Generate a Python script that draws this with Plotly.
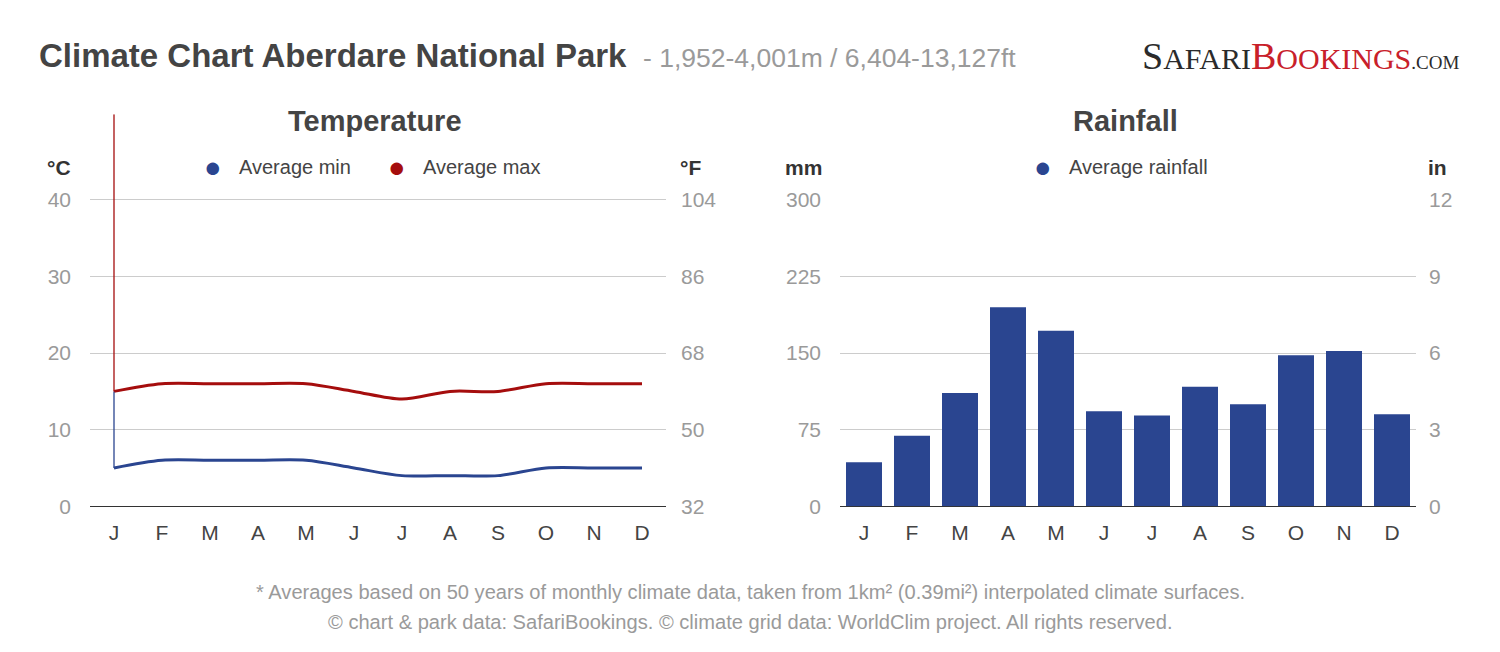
import plotly.graph_objects as go

months = ["J", "F", "M", "A", "M ", "J ", "J  ", "A ", "S", "O", "N", "D"]
month_labels = ["J", "F", "M", "A", "M", "J", "J", "A", "S", "O", "N", "D"]
temp_min = [5, 6, 6, 6, 6, 5, 4, 4, 4, 5, 5, 5]
temp_max = [15, 16, 16, 16, 16, 15, 14, 15, 15, 16, 16, 16]
rain_mm = [43, 69, 111, 195, 172, 93, 89, 117, 100, 148, 152, 90]
c_ticks = [0, 10, 20, 30, 40]
f_ticks = [32, 50, 68, 86, 104]
mm_ticks = [0, 75, 150, 225, 300]
in_ticks = [0, 3, 6, 9, 12]

W, H = 1500, 652
BLUE = "#2a4590"
RED = "#a50d0d"
FONT = "Liberation Sans, Arial, sans-serif"

# empirical correction of page offset / scale seen in the rendered photo
X_OFF = 8.0
Y_OFF, Y_SCALE = 18.6, 0.967


def px(x):
    return (x - X_OFF) / W


def py(y):
    return 1 - ((y - Y_OFF) / Y_SCALE) / H


# plot area geometry (pixels in the photo)
bottom, top, ext_top = 506, 199, 113
t_top = c_ticks[-1] * (bottom - ext_top) / (bottom - top)

fig = go.Figure()

fig.add_trace(go.Scatter(
    x=months, y=temp_min, mode="lines", line=dict(color=BLUE, width=3, shape="spline", smoothing=0.9),
    name="Average min", showlegend=False, xaxis="x", yaxis="y"))
fig.add_trace(go.Scatter(
    x=months, y=temp_max, mode="lines", line=dict(color=RED, width=3, shape="spline", smoothing=0.9),
    name="Average max", showlegend=False, xaxis="x", yaxis="y"))
# focus line artifact at the first month
fig.add_trace(go.Scatter(
    x=[months[0], months[0]], y=[temp_min[0], temp_max[0]], mode="lines",
    line=dict(color=BLUE, width=1.3), showlegend=False, hoverinfo="skip", xaxis="x", yaxis="y"))
fig.add_trace(go.Scatter(
    x=[months[0], months[0]], y=[temp_max[0], t_top], mode="lines",
    line=dict(color=RED, width=1.3), showlegend=False, hoverinfo="skip", xaxis="x", yaxis="y"))
# same data in °F on the right axis (invisible, keeps the axis drawn)
fig.add_trace(go.Scatter(
    x=months, y=[c * 1.8 + 32 for c in temp_max], mode="lines", line=dict(width=0), opacity=0,
    showlegend=False, hoverinfo="skip", xaxis="x", yaxis="y2"))

fig.add_trace(go.Bar(
    x=months, y=rain_mm, marker=dict(color=BLUE, line=dict(width=0)),
    name="Average rainfall", showlegend=False, xaxis="x2", yaxis="y3"))
fig.add_trace(go.Scatter(
    x=months, y=[r / 25.4 for r in rain_mm], mode="lines", line=dict(width=0), opacity=0,
    showlegend=False, hoverinfo="skip", xaxis="x2", yaxis="y4"))

tickfont = dict(family=FONT, size=21, color="#9a9a9a")
xfont = dict(family=FONT, size=21, color="#444444")

common_x = dict(type="category", range=[-0.5, 11.5], showgrid=False, showline=False,
                tickfont=xfont, tickvals=months, ticktext=month_labels,
                ticks="", ticklabelstandoff=12, fixedrange=True)

fig.update_layout(
    width=W, height=H,
    margin=dict(l=0, r=0, t=0, b=0),
    paper_bgcolor="white", plot_bgcolor="white",
    bargap=0.25,
    showlegend=False,
    xaxis=dict(domain=[px(90), px(666)], anchor="y", **common_x),
    xaxis2=dict(domain=[px(840), px(1416)], anchor="y3", **common_x),
    yaxis=dict(domain=[py(bottom), py(ext_top)], range=[0, t_top], tickvals=c_ticks,
               showgrid=True, gridcolor="#cccccc", gridwidth=1,
               zeroline=True, zerolinecolor="#333333", zerolinewidth=1,
               tickfont=tickfont, ticks="", ticklabelstandoff=18, anchor="x", showline=False),
    yaxis2=dict(overlaying="y", side="right", anchor="x",
                range=[f_ticks[0], f_ticks[0] + t_top * 1.8], tickvals=f_ticks,
                showgrid=False, zeroline=False, tickfont=tickfont, ticks="", ticklabelstandoff=14),
    yaxis3=dict(domain=[py(bottom), py(top)], range=[0, mm_ticks[-1]], tickvals=mm_ticks,
                showgrid=True, gridcolor="#cccccc", gridwidth=1,
                zeroline=True, zerolinecolor="#333333", zerolinewidth=1,
                tickfont=tickfont, ticks="", ticklabelstandoff=18, anchor="x2", showline=False),
    yaxis4=dict(overlaying="y3", side="right", anchor="x2",
                range=[0, in_ticks[-1]], tickvals=in_ticks,
                showgrid=False, zeroline=False, tickfont=tickfont, ticks="", ticklabelstandoff=12),
)

ann = []


def text(x, y, s, size, color, bold=False, xanchor="center", family=FONT):
    ann.append(dict(x=px(x), y=py(y), xref="paper", yref="paper", xanchor=xanchor, yanchor="middle",
                    text=f"<b>{s}</b>" if bold else s, showarrow=False,
                    font=dict(family=family, size=size, color=color)))


# title
ann.append(dict(x=px(37), y=py(54), xref="paper", yref="paper", xanchor="left", yanchor="middle",
                showarrow=False,
                text="<b>Climate Chart Aberdare National Park</b> "
                     "<span style='color:#9a9a9a;font-size:26.5px'>&nbsp;- 1,952-4,001m / 6,404-13,127ft</span>",
                font=dict(family=FONT, size=33, color="#444444")))

# logo
ann.append(dict(x=px(1461), y=py(55), xref="paper", yref="paper", xanchor="right", yanchor="middle",
                showarrow=False,
                text="<span style='font-size:38px'>S</span>AFARI"
                     "<span style='color:#c8202a'><span style='font-size:38px'>B</span>OOKINGS</span>"
                     "<span style='font-size:19px'>.COM</span>",
                font=dict(family="Liberation Serif, Times New Roman, serif", size=30, color="#2b2b2b")))

# subplot titles
text(375, 120, "Temperature", 29, "#444444", bold=True)
text(1125, 120, "Rainfall", 29, "#444444", bold=True)

# unit labels
text(59, 166, "°C", 21, "#333333", bold=True)
text(690, 166, "°F", 21, "#333333", bold=True)
text(803, 166, "mm", 21, "#333333", bold=True)
text(1437, 166, "in", 21, "#333333", bold=True)

# legends
text(213, 166, "●", 29, BLUE)
text(237, 166, "Average min", 20, "#444444", xanchor="left")
text(397, 166, "●", 29, RED)
text(421, 166, "Average max", 20, "#444444", xanchor="left")
text(1043, 166, "●", 29, BLUE)
text(1067, 166, "Average rainfall", 20, "#444444", xanchor="left")

# footer
text(750, 592, "* Averages based on 50 years of monthly climate data, taken from 1km² (0.39mi²) interpolated climate surfaces.",
     20.1, "#9a9a9a")
text(750, 622, "© chart &amp; park data: SafariBookings. © climate grid data: WorldClim project. All rights reserved.",
     20.1, "#9a9a9a")

fig.update_layout(annotations=ann)

fig.write_html("out.html", config={"displayModeBar": False})
